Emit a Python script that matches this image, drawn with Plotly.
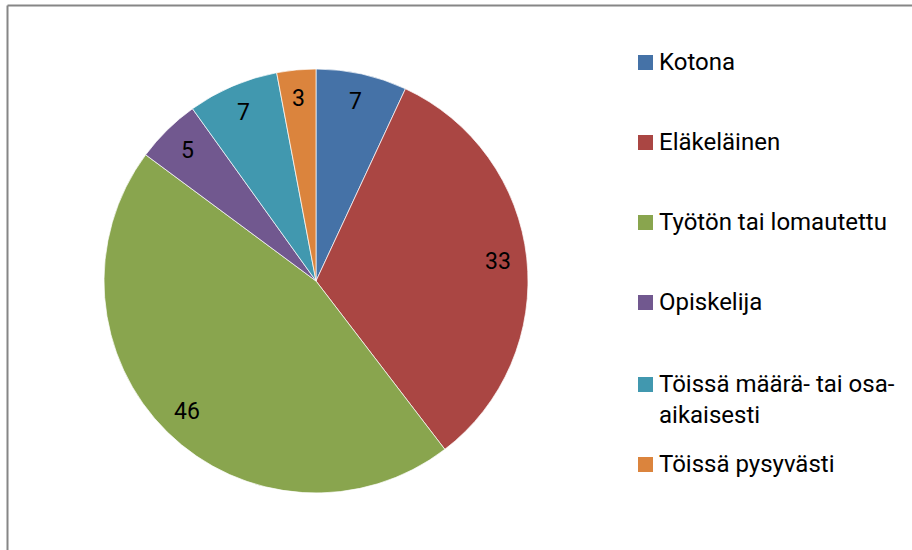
import math
import plotly.graph_objects as go

categories = ["Kotona", "Eläkeläinen", "Työtön tai lomautettu", "Opiskelija",
              "Töissä määrä- tai osa-aikaisesti", "Töissä pysyvästi"]
legend_labels = ["Kotona", "Eläkeläinen", "Työtön tai lomautettu", "Opiskelija",
                 "Töissä määrä- tai osa-<br>aikaisesti", "Töissä pysyvästi"]
values = [7, 33, 46, 5, 7, 3]
colors = ["#4572A7", "#AA4643", "#89A54E", "#71588F", "#4198AF", "#DB843D"]

W, H = 912, 550
FONT = "Roboto, Arial, sans-serif"

# pie geometry (pixels)
cx, cy, R = 316, 281, 212
dom_x = [(cx - R) / W, (cx + R) / W]
dom_y = [1 - (cy + R) / H, 1 - (cy - R) / H]

fig = go.Figure()
fig.add_trace(go.Pie(
    labels=categories, values=values, sort=False, direction="clockwise",
    rotation=0, marker=dict(colors=colors, line=dict(color="rgba(255,255,255,0.7)", width=1)),
    textinfo="none", hoverinfo="label+value", showlegend=False,
    domain=dict(x=dom_x, y=dom_y),
))

annotations = []
shapes = []
# data labels, placed at mid-angle of each slice
total = sum(values)
cum = 0
for v in values:
    mid = (cum + v / 2) / total * 2 * math.pi
    cum += v
    r = 0.865 * R
    px = cx + r * math.sin(mid)
    py = cy - r * math.cos(mid)
    annotations.append(dict(x=px / W, y=1 - py / H, xref="paper", yref="paper",
                            text=str(v), showarrow=False, xanchor="center", yanchor="middle",
                            font=dict(family=FONT, size=23, color="#000000")))

# legend
leg_y = [62, 142, 222, 302, 384, 464]
for i, (lab, col) in enumerate(zip(legend_labels, colors)):
    yc = leg_y[i]
    shapes.append(dict(type="rect", xref="paper", yref="paper",
                       x0=638 / W, x1=653 / W, y0=1 - (yc + 8) / H, y1=1 - (yc - 7) / H,
                       fillcolor=col, line=dict(width=0)))
    annotations.append(dict(x=657 / W, y=1 - (yc - 16) / H, xref="paper", yref="paper",
                            text=lab, showarrow=False, xanchor="left", yanchor="top",
                            align="left",
                            font=dict(family=FONT, size=24, color="#000000")))

# chart border
shapes.append(dict(type="line", xref="paper", yref="paper", x0=7.5 / W, x1=1.02,
                   y0=1 - 5.5 / H, y1=1 - 5.5 / H, line=dict(color="#868686", width=2)))
shapes.append(dict(type="line", xref="paper", yref="paper", x0=7.5 / W, x1=7.5 / W,
                   y0=-0.02, y1=1 - 5.5 / H, line=dict(color="#868686", width=2)))

fig.update_layout(
    width=W, height=H, margin=dict(l=0, r=0, t=0, b=0),
    paper_bgcolor="white", plot_bgcolor="white",
    annotations=annotations, shapes=shapes, showlegend=False,
)
fig.write_html("out.html", config={"displayModeBar": False},
               post_script="document.body.style.margin='0px';document.body.style.overflow='hidden';")
